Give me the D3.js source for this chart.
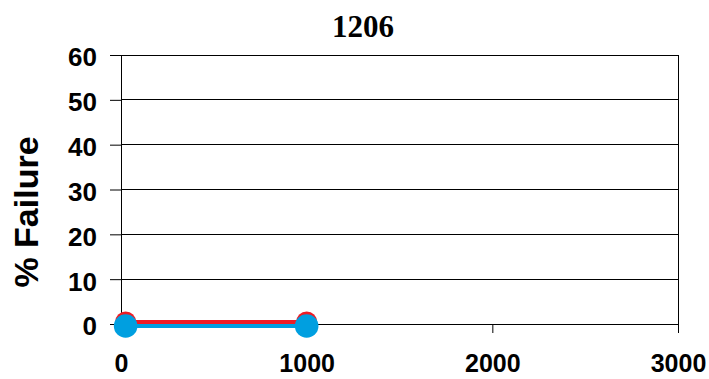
<!DOCTYPE html>
<html>
<head>
<meta charset="utf-8">
<script src="https://cdn.jsdelivr.net/npm/d3@7/dist/d3.min.js"></script>
<style>
  html, body { margin: 0; padding: 0; background: #fff; }
  svg { display: block; }
</style>
</head>
<body>
<svg id="chart" width="709" height="379"></svg>
<script>
// Hours on test and percent failure for each series
const hours = [25, 1000];
const redFailure = [0.45, 0.45];
const blueFailure = [-0.45, -0.45];
const xTicks = [0, 1000, 2000, 3000];
const yTicks = [0, 10, 20, 30, 40, 50, 60];
const chartTitle = "1206";
const yLabel = "% Failure";

const svg = d3.select("#chart");
const plotLeft = 121, plotRight = 678, plotTop = 55, plotBottom = 324;
const sans = "Liberation Sans, Arial, sans-serif";

const x = d3.scaleLinear().domain([0, 3000]).range([plotLeft, plotRight]);
const y = d3.scaleLinear().domain([0, 60]).range([plotBottom, plotTop]);

// Horizontal gridlines
svg.append("g").selectAll("line").data(yTicks).join("line")
  .attr("x1", plotLeft).attr("x2", plotRight)
  .attr("y1", d => y(d)).attr("y2", d => y(d))
  .attr("stroke", "#000").attr("stroke-width", 1).attr("shape-rendering", "crispEdges");

// Right border
svg.append("line").attr("x1", plotRight).attr("x2", plotRight).attr("y1", plotTop).attr("y2", plotBottom)
  .attr("stroke", "#000").attr("shape-rendering", "crispEdges");

// Y axis
const yAxis = svg.append("g").attr("transform", `translate(${plotLeft},0)`)
  .call(d3.axisLeft(y).tickValues(yTicks).tickSize(11).tickPadding(13).tickSizeOuter(0));
yAxis.select(".domain").attr("stroke", "#000");
yAxis.selectAll(".tick line").attr("stroke", "#000");
yAxis.selectAll("text")
  .attr("font-family", sans).attr("dy", "0.42em")
  .attr("font-weight", "bold").attr("font-size", 26).attr("fill", "#000");

// X axis
const xAxis = svg.append("g").attr("transform", `translate(0,${plotBottom})`)
  .call(d3.axisBottom(x).tickValues(xTicks).tickFormat(d3.format("d"))
    .tickSize(9).tickSizeOuter(0));
xAxis.select(".domain").attr("stroke", "#000");
xAxis.selectAll(".tick line").attr("stroke", "#000");
xAxis.selectAll("text")
  .attr("y", 48).attr("dy", 0)
  .attr("font-family", sans)
  .attr("font-weight", "bold").attr("font-size", 25).attr("fill", "#000");

// Series
const series = [
  { values: redFailure, color: "#ee1c25", r: 10.5 },
  { values: blueFailure, color: "#009fe0", r: 11.8 }
];
const line = d3.line().x(d => x(d[0])).y(d => y(d[1]));
series.forEach(s => {
  const pts = hours.map((h, i) => [h, s.values[i]]);
  svg.append("path").datum(pts).attr("d", line)
    .attr("fill", "none").attr("stroke", s.color).attr("stroke-width", 4);
  svg.append("g").selectAll("circle").data(pts).join("circle")
    .attr("cx", d => x(d[0])).attr("cy", d => y(d[1]))
    .attr("r", s.r).attr("fill", s.color);
});

// Title
svg.append("text").attr("x", 363).attr("y", 37).attr("text-anchor", "middle")
  .attr("font-family", "Liberation Serif, Times New Roman, serif")
  .attr("font-weight", "bold").attr("font-size", 31).text(chartTitle);

// Y axis title
svg.append("text").attr("transform", "translate(38,212) rotate(-90)")
  .attr("text-anchor", "middle")
  .attr("font-family", sans)
  .attr("font-weight", "bold").attr("font-size", 34).text(yLabel);
</script>
</body>
</html>
